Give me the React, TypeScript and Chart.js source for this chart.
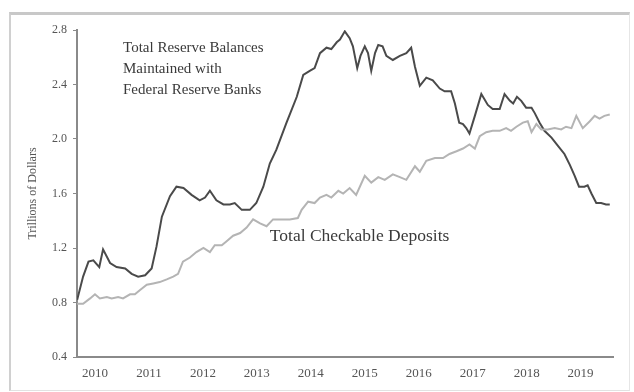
import React, { useEffect, useRef } from "react";
import { Chart, registerables } from "chart.js";

Chart.register(...registerables);

// Total Reserve Balances Maintained with Federal Reserve Banks (trillions)
const reserveDates = [
  2009.67, 2009.78, 2009.88, 2009.97, 2010.08, 2010.15, 2010.28, 2010.4, 2010.56, 2010.68,
  2010.8, 2010.93, 2011.05, 2011.14, 2011.24, 2011.39, 2011.51, 2011.64, 2011.79, 2011.94,
  2012.04, 2012.13, 2012.25, 2012.38, 2012.5, 2012.59, 2012.72, 2012.87, 2012.99, 2013.12,
  2013.24, 2013.36, 2013.55, 2013.74, 2013.86, 2013.98, 2014.07, 2014.17, 2014.29, 2014.38,
  2014.48, 2014.54, 2014.63, 2014.72, 2014.78, 2014.86, 2014.92, 2015.0, 2015.06, 2015.12,
  2015.19, 2015.25, 2015.33, 2015.4, 2015.52, 2015.65, 2015.77, 2015.86, 2015.93, 2016.02,
  2016.14, 2016.26, 2016.39, 2016.48, 2016.6, 2016.67, 2016.75, 2016.82, 2016.88, 2016.94,
  2017.04, 2017.16, 2017.28, 2017.37, 2017.5, 2017.59, 2017.69, 2017.75, 2017.82, 2017.9,
  2017.99, 2018.09, 2018.15, 2018.24, 2018.33, 2018.46, 2018.58, 2018.7, 2018.8, 2018.89,
  2018.97, 2019.07, 2019.13, 2019.2, 2019.29, 2019.38, 2019.47, 2019.54,
];
const reserveValues = [
  0.82, 0.99, 1.1, 1.11, 1.06, 1.19, 1.09, 1.06, 1.05, 1.01,
  0.99, 1.0, 1.05, 1.21, 1.43, 1.58, 1.65, 1.64, 1.59, 1.55,
  1.57, 1.62, 1.55, 1.52, 1.52, 1.53, 1.48, 1.48, 1.53, 1.65,
  1.82, 1.92, 2.12, 2.31, 2.47, 2.5, 2.52, 2.63, 2.67, 2.66,
  2.71, 2.73, 2.79, 2.74, 2.68, 2.52, 2.61, 2.68, 2.63, 2.5,
  2.63, 2.69, 2.68, 2.61, 2.58, 2.61, 2.63, 2.67, 2.53, 2.39,
  2.45, 2.43, 2.37, 2.35, 2.35, 2.26, 2.12, 2.11, 2.08, 2.04,
  2.17, 2.33, 2.25, 2.22, 2.22, 2.33, 2.28, 2.26, 2.31, 2.28,
  2.23, 2.23, 2.19, 2.12, 2.06, 2.01, 1.95, 1.89, 1.81, 1.73,
  1.65, 1.65, 1.66, 1.6, 1.53, 1.53, 1.52, 1.52,
];

// Total Checkable Deposits (trillions)
const depositDates = [
  2009.67, 2009.78, 2009.91, 2010.0, 2010.09, 2010.22, 2010.31, 2010.43, 2010.52, 2010.65,
  2010.74, 2010.83, 2010.96, 2011.08, 2011.2, 2011.33, 2011.45, 2011.54, 2011.63, 2011.76,
  2011.88, 2012.01, 2012.13, 2012.22, 2012.35, 2012.44, 2012.56, 2012.69, 2012.81, 2012.93,
  2013.06, 2013.18, 2013.3, 2013.49, 2013.61, 2013.76, 2013.83, 2013.95, 2014.07, 2014.17,
  2014.29, 2014.38, 2014.51, 2014.6, 2014.72, 2014.84, 2015.0, 2015.12, 2015.25, 2015.37,
  2015.52, 2015.65, 2015.77, 2015.93, 2016.02, 2016.14, 2016.3, 2016.45, 2016.57, 2016.7,
  2016.82, 2016.94, 2017.04, 2017.13, 2017.25, 2017.37, 2017.5, 2017.62, 2017.71, 2017.81,
  2017.93, 2018.02, 2018.09, 2018.18, 2018.27, 2018.39, 2018.52, 2018.64, 2018.73, 2018.83,
  2018.92, 2019.04, 2019.17, 2019.26, 2019.35, 2019.44, 2019.54,
];
const depositValues = [
  0.79, 0.79, 0.83, 0.86, 0.83, 0.84, 0.83, 0.84, 0.83, 0.86,
  0.86, 0.89, 0.93, 0.94, 0.95, 0.97, 0.99, 1.01, 1.1, 1.13,
  1.17, 1.2, 1.17, 1.22, 1.22, 1.25, 1.29, 1.31, 1.35, 1.41,
  1.38, 1.36, 1.41, 1.41, 1.41, 1.42, 1.48, 1.54, 1.53, 1.57,
  1.59, 1.57, 1.62, 1.6, 1.64, 1.59, 1.73, 1.68, 1.72, 1.7,
  1.74, 1.72, 1.7, 1.8, 1.76, 1.84, 1.86, 1.86, 1.89, 1.91,
  1.93, 1.96, 1.93, 2.02, 2.05, 2.06, 2.06, 2.08, 2.06, 2.09,
  2.12, 2.13, 2.05, 2.11, 2.07, 2.07, 2.08, 2.07, 2.09, 2.08,
  2.17, 2.08, 2.13, 2.17, 2.15, 2.17, 2.18,
];

const yearTicks = [2010, 2011, 2012, 2013, 2014, 2015, 2016, 2017, 2018, 2019];
const valueTicks = [0.4, 0.8, 1.2, 1.6, 2.0, 2.4, 2.8];
const xRange = [2009.667, 2019.6];
const yRange = [0.4, 2.8];

const yTitle = "Trillions of Dollars";
const reserveLabelLines = ["Total Reserve Balances", "Maintained with", "Federal Reserve Banks"];
const reserveLabelAnchor = [2010.52, 2.67];
const depositLabelLines = ["Total Checkable Deposits"];
const depositLabelAnchor = [2013.24, 1.285];

const SERIF = "'Liberation Serif', 'Times New Roman', serif";

const labelPlugin = {
  id: "seriesLabels",
  afterDatasetsDraw(chart: any) {
    const { ctx, scales } = chart;
    const draw = (lines: string[], anchor: number[], size: number, lineGap: number) => {
      const x = scales.x.getPixelForValue(anchor[0]);
      const y = scales.y.getPixelForValue(anchor[1]);
      ctx.save();
      ctx.fillStyle = "#3a3a3a";
      ctx.font = `${size}px ${SERIF}`;
      ctx.textAlign = "left";
      ctx.textBaseline = "middle";
      lines.forEach((t, i) => ctx.fillText(t, x, y + i * lineGap));
      ctx.restore();
    };
    draw(reserveLabelLines, reserveLabelAnchor, 15, 21);
    draw(depositLabelLines, depositLabelAnchor, 17.5, 21);
  },
};

export default function App() {
  const ref = useRef<HTMLCanvasElement | null>(null);

  useEffect(() => {
    if (!ref.current) return;
    const chart = new Chart(ref.current, {
      type: "line",
      data: {
        datasets: [
          {
            label: "Total Checkable Deposits",
            data: depositDates.map((d, i) => ({ x: d, y: depositValues[i] })),
            borderColor: "#b4b4b4",
            borderWidth: 2,
            pointRadius: 0,
            tension: 0,
            fill: false,
          },
          {
            label: "Total Reserve Balances",
            data: reserveDates.map((d, i) => ({ x: d, y: reserveValues[i] })),
            borderColor: "#4a4a4a",
            borderWidth: 2,
            pointRadius: 0,
            tension: 0,
            fill: false,
          },
        ],
      },
      options: {
        responsive: false,
        animation: false,
        layout: { padding: { left: 0, top: 30, right: 21, bottom: 0 } },
        plugins: {
          legend: { display: false },
          tooltip: { enabled: false },
        },
        scales: {
          x: {
            type: "linear",
            min: xRange[0],
            max: xRange[1],
            afterBuildTicks: (scale: any) => {
              scale.ticks = yearTicks.map((v) => ({ value: v }));
            },
            afterFit: (scale: any) => {
              scale.height = 35;
            },
            grid: { display: true, drawOnChartArea: false, drawTicks: false, color: "#8a8a8a" },
            border: { display: true, color: "#8a8a8a", width: 2 },
            ticks: {
              padding: 9,
              color: "#555",
              font: { family: SERIF, size: 13 },
              maxRotation: 0,
              autoSkip: false,
              callback: (v: any) => String(v),
            },
          },
          y: {
            type: "linear",
            min: yRange[0],
            max: yRange[1],
            afterBuildTicks: (scale: any) => {
              scale.ticks = valueTicks.map((v) => ({ value: v }));
            },
            afterFit: (scale: any) => {
              scale.width = 77;
            },
            grid: {
              display: true,
              drawOnChartArea: false,
              drawTicks: true,
              tickLength: 4,
              color: "#8a8a8a",
            },
            border: { display: true, color: "#8a8a8a", width: 2 },
            ticks: {
              padding: 6,
              color: "#555",
              font: { family: SERIF, size: 12 },
              autoSkip: false,
              callback: (v: any) => Number(v).toFixed(1),
            },
            title: {
              display: true,
              text: yTitle,
              color: "#555",
              font: { family: SERIF, size: 12 },
              padding: { top: 26, bottom: 0 },
            },
          },
        },
      },
      plugins: [labelPlugin],
    });
    return () => chart.destroy();
  }, []);

  return (
    <div style={{ position: "fixed", left: 0, top: 0, width: 634, height: 392, background: "#fff" }}>
      <div
        style={{
          position: "absolute",
          left: 9,
          top: 12,
          width: 618,
          height: 375,
          borderTop: "3px solid #c8c8c8",
          borderLeft: "2px solid #d0d0d0",
          borderRight: "1px solid #e6e6e6",
          borderBottom: "1px solid #e2e2e2",
        }}
      />
      <canvas ref={ref} width={634} height={392} style={{ position: "absolute", left: 0, top: 0 }} />
    </div>
  );
}
